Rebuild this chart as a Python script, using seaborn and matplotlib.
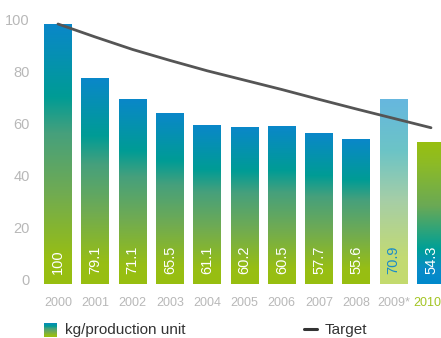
import numpy as np
import pandas as pd
import matplotlib
matplotlib.use("Agg")
import matplotlib.pyplot as plt
from matplotlib.colors import LinearSegmentedColormap
from matplotlib.transforms import ScaledTranslation
import seaborn as sns

# --- data ---
years = ["2000", "2001", "2002", "2003", "2004", "2005", "2006",
         "2007", "2008", "2009*", "2010"]
kg_per_unit = [100, 79.1, 71.1, 65.5, 61.1, 60.2, 60.5, 57.7, 55.6, 70.9, 54.3]
target = [100, 95.0, 90.2, 86.0, 82.0, 78.4, 74.8, 71.0, 67.3, 63.7, 60.1]
y_ticks = [0, 20, 40, 60, 80, 100]

sns.set_theme(style="white")
plt.rcParams["font.family"] = ["Liberation Sans", "DejaVu Sans"]

fig = plt.figure(figsize=(4.41, 3.38), dpi=100)
W, H = 441, 338
ax = fig.add_axes([39.35 / W, (H - 284) / H, 1 - 39.35 / W, 270.4 / H])

df = pd.DataFrame({"year": years, "value": kg_per_unit})
sns.barplot(data=df, x="year", y="value", ax=ax, width=0.75,
            color="#0088cc", saturation=1, errorbar=None)

# gradient fills, top -> bottom
normal = LinearSegmentedColormap.from_list("normal", [
    (0.0, "#0a87c9"), (0.28, "#009c95"), (0.42, "#46a07c"),
    (0.65, "#70ab52"), (0.9, "#97be14"), (1.0, "#98bf10")])
light = LinearSegmentedColormap.from_list("light", [
    (0.0, "#66b7df"), (0.28, "#6cc4c6"), (0.55, "#a6cea6"),
    (0.85, "#c2da74"), (1.0, "#c4db6e")])
reverse = LinearSegmentedColormap.from_list("reverse", [
    (0.0, "#98bf10"), (0.15, "#8dbb26"), (0.45, "#6aa955"),
    (0.75, "#00a096"), (0.9, "#0a8bc8"), (1.0, "#0089cc")])
cmaps = [normal] * 9 + [light, reverse]

grad = np.linspace(0, 1, 256).reshape(-1, 1)
for patch, cmap in zip(ax.patches, cmaps):
    x0, y0 = patch.get_x(), patch.get_y()
    w, h = patch.get_width(), patch.get_height()
    ax.imshow(grad, cmap=cmap, aspect="auto", extent=[x0, x0 + w, y0, y0 + h],
              origin="upper", zorder=1, interpolation="bilinear")
    patch.set_visible(False)

# value labels inside bars
label_colors = ["white"] * 9 + ["#1a8cc8", "white"]
for i, (v, c) in enumerate(zip(kg_per_unit, label_colors)):
    ax.text(i, 3.8, f"{v:g}", rotation=90, ha="center", va="bottom",
            color=c, fontsize=10.5, zorder=3)

# target line
sns.lineplot(x=np.arange(len(years)), y=target, ax=ax, color="#555555",
             linewidth=2.0, zorder=2, legend=False)

ax.set_xlim(-0.5, (441 - 58) / 37.3)
ax.set_ylim(0, 104)
ax.set_xlabel("")
ax.set_ylabel("")
for s in ax.spines.values():
    s.set_visible(False)
ax.grid(False)

ax.set_yticks(y_ticks)
ax.set_yticklabels([str(t) for t in y_ticks])
ax.tick_params(axis="y", length=0, pad=7, labelsize=10.5, labelcolor="#b8b8b8")
up = ScaledTranslation(0, 4.5 / 100, fig.dpi_scale_trans)
for lab in ax.get_yticklabels():
    lab.set_transform(lab.get_transform() + up)

ax.set_xticks(range(len(years)))
ax.set_xticklabels(years)
ax.tick_params(axis="x", length=0, pad=9.5, labelsize=9, labelcolor="#b8b8b8")
last = ax.get_xticklabels()[-1]
last.set_color("#a3c423")
last.set_transform(last.get_transform()
                   + ScaledTranslation(-4 / 100, 0, fig.dpi_scale_trans))

# legend
lg = fig.add_axes([44 / W, (H - 337) / H, 13 / W, 14 / H])
lg.imshow(grad, cmap=normal, aspect="auto", interpolation="bilinear")
lg.axis("off")
fig.text(65 / W, (H - 330) / H, "kg/production unit", fontsize=11,
         color="#333333", va="center", ha="left")
fig.add_artist(plt.Line2D([304 / W, 317 / W], [(H - 329) / H] * 2,
                          color="#333333", linewidth=2.2))
fig.text(325 / W, (H - 330) / H, "Target", fontsize=11,
         color="#333333", va="center", ha="left")

fig.savefig("out.png", dpi=100)
